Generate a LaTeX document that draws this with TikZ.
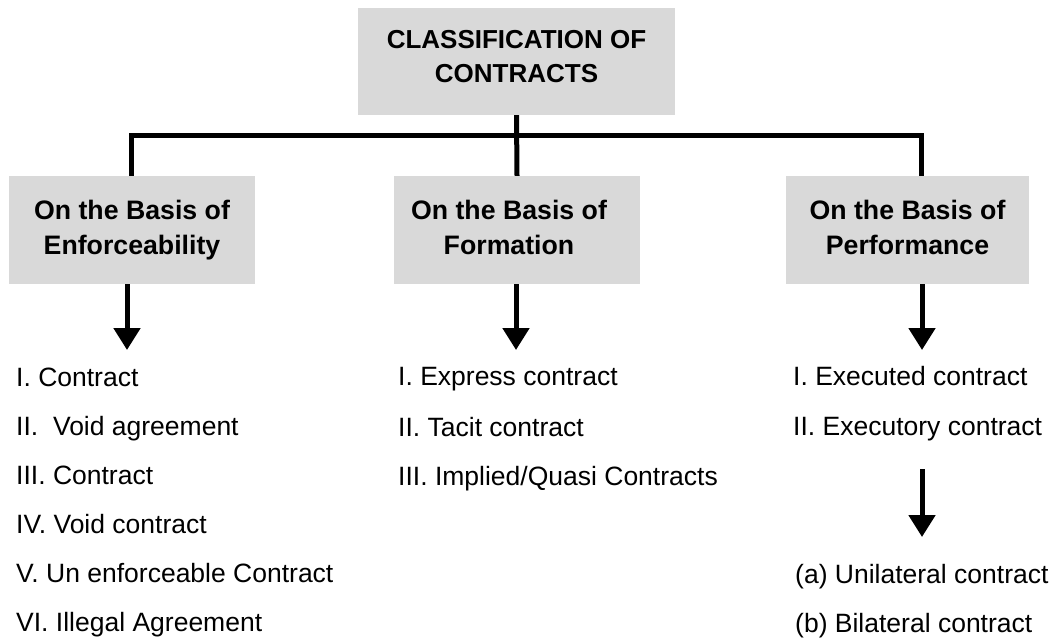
\documentclass[tikz,border=0pt]{standalone}
\usepackage{fontspec}
\setmainfont{Liberation Sans}
\usetikzlibrary{arrows.meta}
\definecolor{boxgray}{HTML}{D9D9D9}
\tikzset{
  graybox/.style={fill=boxgray, draw=none, inner sep=0pt, align=center, font=\fontsize{26.7}{35}\selectfont\bfseries},
  conn/.style={line width=5pt, line join=miter},
  arr/.style={line width=5pt, -{Triangle[width=26pt,length=22pt]}},
  item/.style={anchor=base west, inner sep=0pt, font=\fontsize{26.5}{31}\selectfont}
}
\begin{document}
\begin{tikzpicture}[x=1pt,y=-1pt]
\useasboundingbox (0,0) rectangle (1054,638);
% boxes
\node[graybox, minimum width=317pt, minimum height=107pt, font=\fontsize{26}{34}\selectfont\bfseries] (title) at (516.5,61.5) {CLASSIFICATION OF\\CONTRACTS\rule[-10pt]{0pt}{10pt}};
\node[graybox, minimum width=246pt, minimum height=108pt] (enf) at (132,230) {On the Basis of\\Enforceability};
\node[graybox, minimum width=246pt, minimum height=108pt] (form) at (517,230) {On the Basis of\hspace*{16pt}\\Formation\vphantom{y}\hspace*{16pt}};
\node[graybox, minimum width=243pt, minimum height=108pt] (perf) at (907.5,230) {On the Basis of\\Performance\vphantom{y}};
% tree connectors
\coordinate (jL) at (131,135);
\coordinate (jR) at (921,135);
\draw[conn] (jL |- enf.north) -- (jL) -- (jR) -- (jR |- perf.north);
\draw[conn] (title.south) -- (form.north);
% arrows
\coordinate (tL) at (127,350);
\coordinate (tM) at (516,350);
\coordinate (tR) at (922,350);
\draw[arr] (tL |- enf.south) -- (tL);
\draw[arr] (tM |- form.south) -- (tM);
\draw[arr] (tR |- perf.south) -- (tR);
% left list
\node[item] (l1) at (16,386) {I. Contract};
\node[item] (l2) at (16,435) {II.~~Void agreement};
\node[item] (l3) at (16,484) {III. Contract};
\node[item] (l4) at (16,533) {IV. Void contract};
\node[item] (l5) at (16,582) {V. Un enforceable Contract};
\node[item] (l6) at (16,631) {VI. Illegal Agreement};
% middle list
\node[item] (m1) at (398,385) {I. Express contract};
\node[item] (m2) at (398,436) {II. Tacit contract};
\node[item] (m3) at (398,485) {III. Implied/Quasi Contracts};
% right list
\node[item] (r1) at (793,385) {I. Executed contract};
\node[item] (r2) at (793,435) {II. Executory contract};
\coordinate (s2) at (922,469);
\coordinate (t2) at (922,537);
\draw[arr] (s2) -- (t2);
\node[item] (r3) at (795,583) {(a) Unilateral contract};
\node[item] (r4) at (795,632) {(b) Bilateral contract};
\end{tikzpicture}
\end{document}
